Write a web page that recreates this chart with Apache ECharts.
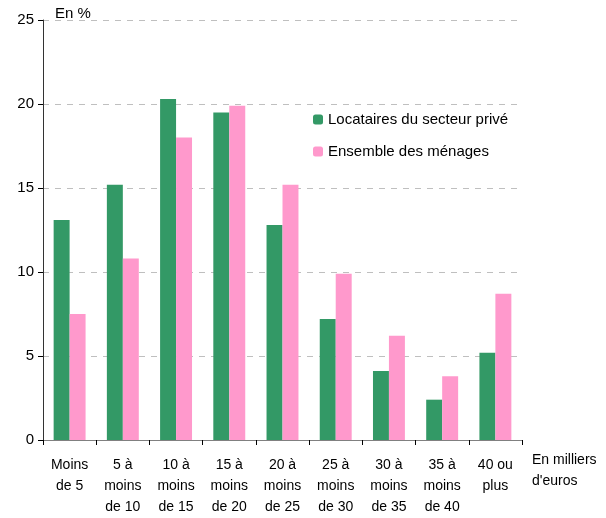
<!DOCTYPE html>
<html><head><meta charset="utf-8">
<script src="https://cdn.jsdelivr.net/npm/echarts@6/dist/echarts.min.js"></script>
<style>html,body{margin:0;padding:0;background:#fff}#c{width:606px;height:518px}</style>
</head><body><div id="c"></div>
<script>
var categories = ["Moins\nde 5","5 à\nmoins\nde 10","10 à\nmoins\nde 15","15 à\nmoins\nde 20","20 à\nmoins\nde 25","25 à\nmoins\nde 30","30 à\nmoins\nde 35","35 à\nmoins\nde 40","40 ou\nplus"];
var locataires = [13.1, 15.2, 20.3, 19.5, 12.8, 7.2, 4.1, 2.4, 5.2];
var ensemble = [7.5, 10.8, 18.0, 19.9, 15.2, 9.9, 6.2, 3.8, 8.7];
var yTicks = [0, 5, 10, 15, 20, 25];
var F = 'Liberation Sans, Arial, sans-serif';
var chart = echarts.init(document.getElementById('c'));
chart.setOption({
  animation: false,
  grid: {left: 43, right: 84, top: 20, bottom: 73},
  legend: {
    orient: 'vertical', left: 308, top: 107, itemWidth: 10, itemHeight: 10, itemGap: 17,
    textStyle: {fontFamily: F, fontSize: 15, color: '#000'},
    data: ['Locataires du secteur privé', 'Ensemble des ménages']
  },
  graphic: [
    {type: 'text', left: 55, top: 6, style: {text: 'En %', font: '15px ' + F, fill: '#000'}},
    {type: 'text', left: 532, top: 450, style: {text: 'En milliers\nd\'euros', font: '14px ' + F, fill: '#000', align: 'center', lineHeight: 21}}
  ],
  xAxis: {
    type: 'category', data: categories,
    axisLine: {lineStyle: {color: '#808080', width: 1}},
    axisTick: {show: true, length: 5, lineStyle: {color: '#000'}},
    axisLabel: {fontFamily: F, fontSize: 14, color: '#000', lineHeight: 21, margin: 15, interval: 0}
  },
  yAxis: {
    type: 'value', min: yTicks[0], max: yTicks[yTicks.length - 1], interval: 5,
    axisLine: {show: true, lineStyle: {color: '#333', width: 1}},
    axisTick: {show: true, length: 5, lineStyle: {color: '#000'}},
    axisLabel: {fontFamily: F, fontSize: 15, color: '#000', margin: 9},
    splitLine: {lineStyle: {color: '#bfbfbf', type: [6, 6]}}
  },
  series: [
    {name: 'Locataires du secteur privé', type: 'bar', data: locataires, barGap: '0%', barCategoryGap: '40%', itemStyle: {color: '#339966'}},
    {name: 'Ensemble des ménages', type: 'bar', data: ensemble, itemStyle: {color: '#FF99CC'}}
  ]
});
</script></body></html>
